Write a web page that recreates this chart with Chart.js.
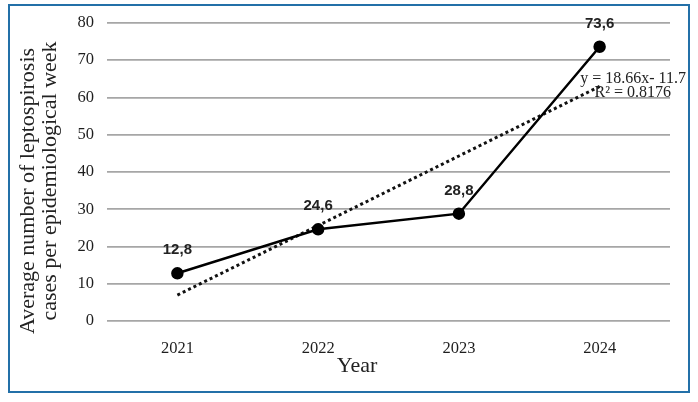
<!DOCTYPE html>
<html>
<head>
<meta charset="utf-8">
<script src="https://cdn.jsdelivr.net/npm/chart.js@4/dist/chart.umd.min.js"></script>
<style>
  html, body { margin: 0; padding: 0; background: #ffffff; }
  #wrap { position: relative; width: 698px; height: 402px; }
  #frame {
    position: absolute; left: 8px; top: 4px; width: 678px; height: 385px;
    border: 2px solid #2370a8; pointer-events: none;
  }
</style>
</head>
<body>
<div id="wrap">
  <canvas id="trendChart" width="698" height="402"></canvas>
  <div id="frame"></div>
</div>
<script>
const years = ["2021", "2022", "2023", "2024"];
const avgCases = [12.8, 24.6, 28.8, 73.6];
// linear trend line as printed on the figure (y = 18.66x - 11.7)
const trendValues = [6.96, 25.62, 44.28, 62.94];
const trendText = ["y = 18.66x- 11.7", "R\u00b2 = 0.8176"];
const yTitle = ["Average number of leptospirosis", "cases per epidemiological week"];
const xTitle = "Year";

const serif = "'Liberation Serif', 'DejaVu Serif', serif";

const labelPlugin = {
    id: "labels",
    afterDatasetsDraw(chart) {
        const ctx = chart.ctx;
        const meta = chart.getDatasetMeta(0);
        const area = chart.chartArea;
        ctx.save();
        ctx.fillStyle = "#222222";
        ctx.font = "bold 15px 'Liberation Sans', Arial, sans-serif";
        ctx.textAlign = "center";
        ctx.textBaseline = "middle";
        meta.data.forEach((pt, i) => {
            ctx.fillText(String(avgCases[i]).replace(".", ","), pt.x, pt.y - 23);
        });

        // trend equation
        ctx.font = "16px " + serif;
        ctx.fillStyle = "#222222";
        ctx.textAlign = "right";
        ctx.fillText(trendText[0], area.right + 16, 79);
        ctx.fillText(trendText[1], area.right + 1, 93);

        // axis titles
        ctx.font = "22px " + serif;
        ctx.textAlign = "center";
        ctx.fillText(xTitle, 357, 366);

        ctx.save();
        ctx.translate(28, 191);
        ctx.rotate(-Math.PI / 2);
        ctx.fillText(yTitle[0], 0, 0);
        ctx.restore();
        ctx.save();
        ctx.translate(50, 181);
        ctx.rotate(-Math.PI / 2);
        ctx.fillText(yTitle[1], 0, 0);
        ctx.restore();
        ctx.restore();
    }
};

function loadTrendChart() {
    const ctx = document.getElementById("trendChart");
    if (!ctx) return;

    new Chart(ctx, {
        type: "line",
        data: {
            labels: years,
            datasets: [{
                data: avgCases,
                borderColor: "#000000",
                backgroundColor: "#000000",
                borderWidth: 2.5,
                pointRadius: 5,
                pointBackgroundColor: "#000000",
                tension: 0,
                order: 0
            }, {
                data: trendValues,
                borderColor: "#111111",
                borderWidth: 3,
                borderDash: [3, 3],
                pointRadius: 0,
                tension: 0,
                order: 1
            }]
        },
        options: {
            responsive: false,
            animation: false,
            layout: { padding: { left: 10, top: 22, right: 28, bottom: 0 } },
            plugins: {
                legend: { display: false },
                tooltip: { enabled: false }
            },
            scales: {
                x: {
                    offset: true,
                    grid: { display: false },
                    border: { display: false },
                    ticks: {
                        color: "#1e1e1e",
                        font: { family: serif, size: 16.5 },
                        padding: 10
                    },
                    afterFit(scale) { scale.height = 81; }
                },
                y: {
                    min: 0,
                    max: 80,
                    ticks: {
                        stepSize: 10,
                        color: "#1e1e1e",
                        font: { family: serif, size: 16.5 },
                        padding: 13
                    },
                    grid: { color: "#a6a6a6", lineWidth: 1.8, drawTicks: false },
                    border: { display: false },
                    afterFit(scale) { scale.width = 97; }
                }
            }
        },
        plugins: [labelPlugin]
    });
}

document.addEventListener("DOMContentLoaded", loadTrendChart);
</script>
</body>
</html>
